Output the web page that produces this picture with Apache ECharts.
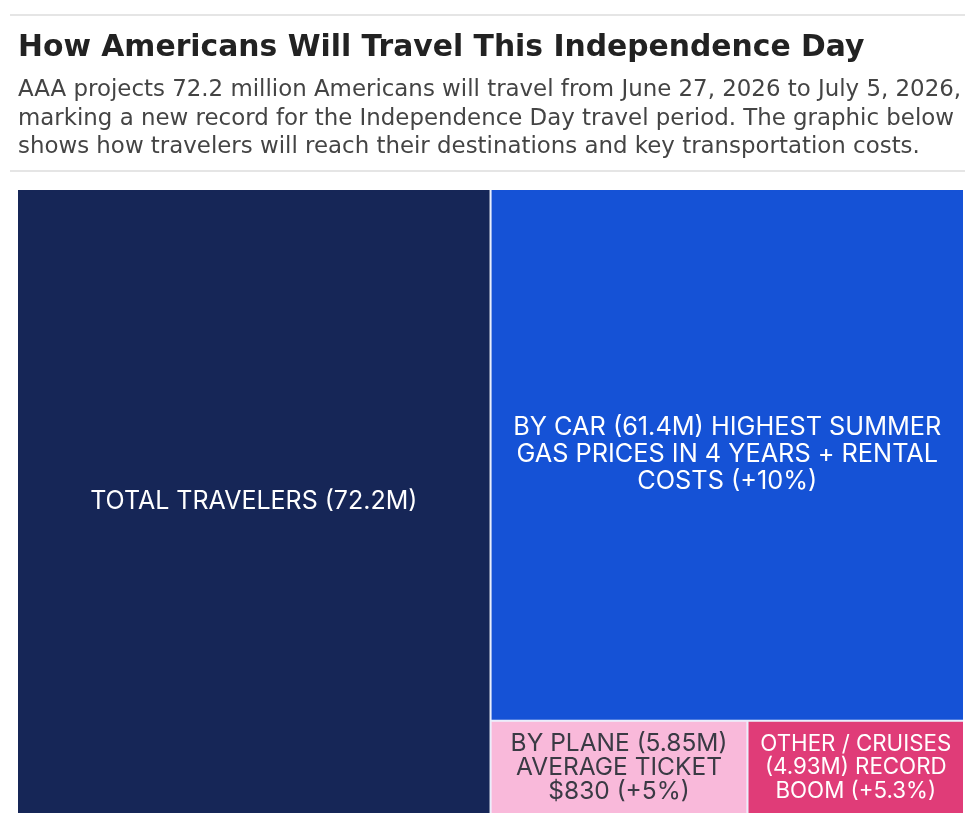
<!DOCTYPE html>
<html>
<head>
<meta charset="utf-8">
<script src="https://cdn.jsdelivr.net/npm/echarts@6/dist/echarts.min.js"></script>
<style>
  html, body { margin: 0; padding: 0; background: #fff; }
  #main { width: 980px; height: 826px; }
</style>
</head>
<body>
<div id="main"></div>
<script>
// travel modes, values in millions
var names = ['Total Travelers', 'By Car', 'By Plane', 'Other / Cruises'];
var values = [72.2, 61.4, 5.85, 4.93];
var labels = [
  'TOTAL TRAVELERS (72.2M)',
  'BY CAR (61.4M) HIGHEST SUMMER\nGAS PRICES IN 4 YEARS + RENTAL\nCOSTS (+10%)',
  'BY PLANE (5.85M)\nAVERAGE TICKET\n$830 (+5%)',
  'OTHER / CRUISES\n(4.93M) RECORD\nBOOM (+5.3%)'
];
var colors = ['#162657', '#1552d6', '#f9b9da', '#e03c78'];
var textColors = ['#ffffff', '#ffffff', '#3a3a44', '#ffffff'];
var fontSizes = [25, 25.3, 24.5, 22.3];
var lineHeights = [30, 27, 24, 23.5];

var chart = echarts.init(document.getElementById('main'));

var data = [];
for (var i = 0; i < names.length; i++) {
  data.push({
    name: names[i],
    value: values[i],
    itemStyle: { color: colors[i] },
    label: {
      formatter: labels[i],
      color: textColors[i],
      fontSize: fontSizes[i],
      lineHeight: lineHeights[i]
    }
  });
}

chart.setOption({
  animation: false,
  title: {
    text: 'How Americans Will Travel This Independence Day',
    subtext: 'AAA projects 72.2 million Americans will travel from June 27, 2026 to July 5, 2026,\nmarking a new record for the Independence Day travel period. The graphic below\nshows how travelers will reach their destinations and key transportation costs.',
    left: 13,
    top: 28,
    itemGap: 13,
    textStyle: {
      fontFamily: 'DejaVu Sans',
      fontWeight: 'bold',
      fontSize: 29.8,
      color: '#222'
    },
    subtextStyle: {
      fontFamily: 'DejaVu Sans',
      fontSize: 22.9,
      lineHeight: 28.5,
      color: '#444'
    }
  },
  graphic: [
    { type: 'line', shape: { x1: 10, y1: 15, x2: 965, y2: 15 }, style: { stroke: '#dddddd', lineWidth: 1.5 } },
    { type: 'line', shape: { x1: 10, y1: 171, x2: 965, y2: 171 }, style: { stroke: '#dddddd', lineWidth: 1.5 } }
  ],
  series: [{
    type: 'treemap',
    left: 18,
    top: 190,
    width: 945,
    height: 623,
    squareRatio: 1,
    roam: false,
    nodeClick: false,
    breadcrumb: { show: false },
    label: {
      show: true,
      position: 'inside',
      align: 'center',
      verticalAlign: 'middle',
      fontFamily: 'Inter'
    },
    upperLabel: { show: false },
    levels: [{
      itemStyle: { gapWidth: 2, borderWidth: 0, borderColor: '#e8eefc' }
    }],
    data: data
  }]
});
</script>
</body>
</html>
